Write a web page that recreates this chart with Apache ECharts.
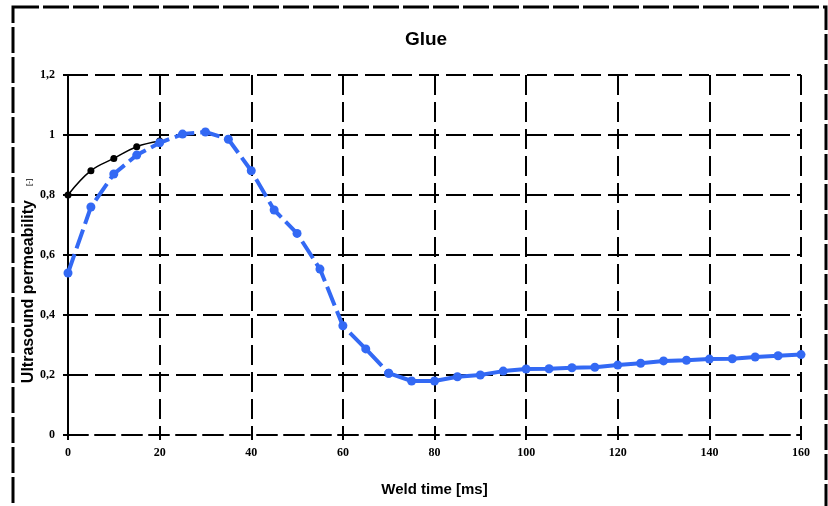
<!DOCTYPE html>
<html>
<head>
<meta charset="utf-8">
<script src="https://cdn.jsdelivr.net/npm/echarts@6/dist/echarts.min.js"></script>
<style>
html,body{margin:0;padding:0;background:#fff;}
#chart{width:828px;height:506px;}
</style>
</head>
<body>
<div id="chart"></div>
<script>
const titleText = 'Glue';
const xAxisTitle = 'Weld time [ms]';
const yAxisTitle = 'Ultrasound permeability';
const yAxisUnit = '[-]';

const blueTimes = [0,5,10,15,20,25,30,35,40,45,50,55,60,65,70,75,80,85,90,95,100,105,110,115,120,125,130,135,140,145,150,155,160];
const blueValues = [0.54,0.76,0.87,0.933,0.974,1.003,1.01,0.986,0.881,0.75,0.672,0.553,0.364,0.287,0.206,0.18,0.18,0.194,0.2,0.213,0.22,0.221,0.224,0.226,0.233,0.239,0.247,0.249,0.253,0.254,0.26,0.264,0.268];

const blackTimes = [0,5,10,15,20];
const blackValues = [0.8,0.881,0.922,0.961,0.98];

const dashedEndIndex = 14; // blue line dashed up to 70 ms, solid afterwards

const pairs = (xs, ys) => xs.map((x, i) => [x, ys[i]]);
const bluePts = pairs(blueTimes, blueValues);

const gridLine = {color:'#000', width:2, type:[20,7]};
const BLUE = '#3369f4';

const chart = echarts.init(document.getElementById('chart'));
chart.setOption({
  backgroundColor:'#fff',
  animation:false,
  title:{
    text:titleText, left:421, top:25, textAlign:'center',
    textStyle:{fontFamily:'Liberation Sans, Arial, sans-serif', fontWeight:'bold', fontSize:19, color:'#000'}
  },
  graphic:[{
    type:'rect', silent:true, z:-1,
    shape:{x:13, y:7, width:813, height:530},
    style:{fill:null, stroke:'#000', lineWidth:3, lineDash:[26,4]}
  }],
  grid:{left:68, right:27, top:75, bottom:71, containLabel:false},
  xAxis:{
    type:'value', min:0, max:160, interval:20,
    name:xAxisTitle, nameLocation:'middle', nameGap:47, nameMoveOverlap:false,
    nameTextStyle:{fontFamily:'Liberation Sans, Arial, sans-serif', fontWeight:'bold', fontSize:15, color:'#000', verticalAlign:'top'},
    axisLine:{show:true, onZero:false, lineStyle:gridLine},
    axisTick:{show:true, length:5, lineStyle:{color:'#000', width:2}},
    axisLabel:{margin:12, color:'#000', fontFamily:'Liberation Serif, Times New Roman, serif', fontWeight:'bold', fontSize:12},
    splitLine:{show:true, lineStyle:gridLine}
  },
  yAxis:{
    type:'value', min:0, max:1.2, interval:0.2,
    name:'{a|' + yAxisTitle + '}{b|' + yAxisUnit + '}', nameLocation:'middle', nameGap:31, nameRotate:90,
    nameMoveOverlap:false,
    nameTextStyle:{
      padding:[0,52,0,0],
      rich:{
        a:{fontFamily:'Liberation Sans, Arial, sans-serif', fontWeight:'bold', fontSize:16, color:'#000'},
        b:{fontFamily:'Liberation Sans, Arial, sans-serif', fontSize:8, color:'#000', padding:[0,0,0,14]}
      }
    },
    axisLine:{show:true, onZero:false, lineStyle:gridLine},
    axisTick:{show:true, length:5, lineStyle:{color:'#000', width:2}},
    axisLabel:{
      margin:13, color:'#000', fontFamily:'Liberation Serif, Times New Roman, serif', fontWeight:'bold', fontSize:12,
      formatter:v => String(Math.round(v*10)/10).replace('.', ',')
    },
    splitLine:{show:true, lineStyle:gridLine}
  },
  series:[
    {
      type:'line', name:'black', data:pairs(blackTimes, blackValues), smooth:0.4,
      symbol:'circle', symbolSize:7, z:3,
      itemStyle:{color:'#000'}, lineStyle:{color:'#000', width:1.5}
    },
    {
      type:'line', name:'blue dashed', data:bluePts.slice(0, dashedEndIndex + 1),
      symbol:'circle', symbolSize:9, z:4,
      itemStyle:{color:BLUE}, lineStyle:{color:BLUE, width:4, type:[20,6]}
    },
    {
      type:'line', name:'blue solid', data:bluePts.slice(dashedEndIndex),
      symbol:'circle', symbolSize:9, z:4,
      itemStyle:{color:BLUE}, lineStyle:{color:BLUE, width:4}
    }
  ]
});
</script>
</body>
</html>
